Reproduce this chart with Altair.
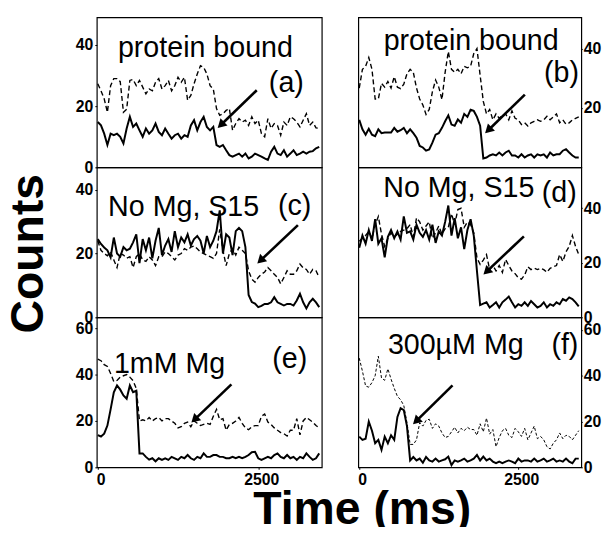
import altair as alt
import pandas as pd

FONT = "Liberation Sans"

TIME_MS = [0, 50, 100, 150, 200, 250, 300, 350, 400, 450,
           500, 550, 600, 650, 700, 750, 800, 850, 900, 950,
           1000, 1050, 1100, 1150, 1200, 1250, 1300, 1350, 1400, 1450,
           1500, 1550, 1600, 1650, 1700, 1750, 1800, 1850, 1900, 1950,
           2000, 2050, 2100, 2150, 2200, 2250, 2300, 2350, 2400, 2450,
           2500, 2550, 2600, 2650, 2700, 2750, 2800, 2850, 2900, 2950,
           3000, 3050, 3100, 3150, 3200, 3250, 3300, 3350, 3400, 3450]

A_SOLID = [14.8, 13.7, 11, 7.3, 11, 10.5, 11, 10, 7.8, 12.7,
           16.5, 13.2, 14.3, 12.1, 10, 12.7, 11, 12.1, 14.3, 11.6,
           10.5, 12.7, 11, 9.4, 10.5, 11, 9.4, 10.5, 10, 13.7,
           15.4, 12.1, 14.8, 16.5, 13.2, 12.1, 13.2, 7.3, 6.7, 7.3,
           5.6, 4, 3.5, 4, 4.5, 3.5, 4.5, 2.9, 3.5, 4.5,
           4, 3.5, 2.9, 2.4, 5.1, 6.7, 4.5, 4, 5.6, 3.5,
           4.5, 5.6, 4, 4.5, 5.1, 4.5, 5.1, 5.3, 6.2, 6.7]
A_DASH = [27.3, 25, 22.4, 18, 26.7, 29, 29, 28, 18, 19,
          28.4, 28.7, 26.7, 28.4, 26.2, 24, 25.6, 25, 27.8, 29,
          25.6, 26.7, 28.4, 25, 26.7, 29.4, 27.8, 29.4, 21.9, 23.5,
          27.3, 30.5, 33.2, 32.7, 30.5, 26.7, 25.6, 19.2, 17, 17.5,
          18.6, 19.2, 12.1, 14.3, 15.9, 14.8, 15.4, 13.7, 16.5, 14.3,
          15.4, 11, 10, 15.9, 12.7, 14.3, 13.7, 10.5, 14.8, 13.7,
          16.5, 15.9, 14.8, 13.2, 15.4, 17.5, 13.7, 14.8, 12.9, 12.7]

B_SOLID = [16, 12.8, 11, 13, 11, 10.5, 12.8, 11.5, 11.7, 11.7,
           11.7, 13.3, 12, 12.5, 13.3, 11.5, 12.8, 11.5, 10, 7.2,
           6.7, 5.6, 6, 8.3, 11, 11.5, 13.3, 15.5, 17.5, 14.4,
           14, 16.1, 15, 18, 17, 19.4, 19, 17, 14, 3,
           3.3, 4, 4.4, 4, 5, 4, 5, 5.6, 4, 4,
           3.3, 4.4, 3.3, 4, 4.4, 3.3, 4.4, 4, 4.4, 3.3,
           5, 4, 4.4, 4.4, 5.6, 6.1, 5, 4, 3.3, 3.3]
B_DASH = [26.7, 33, 34, 37, 33, 23, 23, 28.3, 27, 28.9,
          26.7, 30.5, 27, 26.5, 28, 31.5, 33, 32, 26.7, 23,
          21, 17.8, 19.5, 25.5, 29.4, 27, 22.8, 32, 39, 33,
          32, 33, 31.5, 34, 33.5, 34, 38.3, 40, 31, 22.2,
          18, 19.5, 16, 18, 16.5, 17.5, 18, 16, 19, 16.5,
          16, 14.4, 15, 13.9, 15, 15.5, 16, 15.5, 16, 17.2,
          16, 17, 18, 15, 16, 14.5, 15, 16, 16.5, 17]

C_SOLID = [24.5, 23, 21.9, 21, 18.8, 25, 20, 19, 22, 21,
           21.5, 23.5, 26, 17, 24.5, 21, 25, 18.5, 24, 28,
           19.5, 22.5, 24.5, 20.5, 27, 22, 25, 23.5, 26, 22.5,
           24.5, 25.5, 24, 20, 25.5, 22, 24, 27, 33.5, 20,
           26, 25, 19.5, 27, 28, 27, 22, 7, 4.8, 4.3,
           3.2, 3.6, 4.2, 4.2, 4.7, 6.3, 4.7, 4.2, 3.7, 4.2,
           4.2, 3.7, 5.3, 7.4, 4.7, 2.8, 4.7, 5.8, 4.7, 3.2]
C_DASH = [24, 21, 20, 19.3, 20.5, 18, 15.6, 20, 19.5, 18.5,
          19, 15.6, 19, 20, 18, 17.5, 19, 18, 16.2, 19,
          19, 20.5, 20, 19, 18, 19.5, 20, 21.5, 21, 22,
          22.4, 21.5, 20.5, 20, 19.5, 19, 18.5, 20, 27.6, 21,
          16.2, 20, 21.5, 19.5, 22, 21, 20, 14.6, 12, 11,
          12.5, 13.5, 14.2, 15.6, 14.6, 13.5, 12.5, 10.5, 12.5, 14.6,
          13.5, 13.5, 14.6, 16.7, 15.5, 15, 13.5, 15, 14.6, 12.5]

D_SOLID = [25.5, 30, 27, 32, 28, 36, 27, 29, 22, 29.5,
           32, 29, 31.5, 28.5, 37, 31, 31.5, 28.5, 34, 31,
           29.5, 32, 28.5, 34, 27.3, 31.5, 30, 35, 41, 30,
           36.4, 29, 33, 25, 32, 36, 30, 17, 4.5, 5,
           5.5, 3.6, 4.5, 5.5, 3.6, 5.5, 6.5, 7.6, 5.5, 3.6,
           4.8, 4.2, 5.5, 4.2, 6, 4.8, 3.6, 4.2, 5.5, 3.6,
           4.8, 4.2, 5.5, 4.8, 6.7, 6.1, 7.3, 6.7, 5.5, 4]
D_DASH = [27.9, 29, 30, 31.5, 29, 34, 37, 30.5, 26, 29,
          31, 29.5, 30.5, 31.5, 32, 32.5, 34, 29.5, 36.5, 35,
          32, 33.5, 35, 29, 31, 33.5, 30.5, 32.5, 33, 38,
          34, 39.5, 40, 33, 35, 34, 31, 21.8, 19.4, 21,
          23, 17.5, 19, 17, 19, 16.5, 21.2, 19, 17, 16,
          14.5, 14, 15.5, 18.5, 17.5, 18, 17.5, 18, 17.5, 16.5,
          18, 18.5, 19, 23, 20.5, 24, 26, 30, 26, 23]

E_SOLID = [13.9, 13.3, 14.5, 18, 25, 32.4, 35.3, 33.5, 31, 29.6,
           35.3, 32.4, 33, 6, 6, 4.5, 3.3, 3.9, 2.6, 3.9,
           3.2, 3.9, 3.2, 4.5, 3.9, 3.2, 4.5, 3.9, 5.3, 3.9,
           3.2, 4.5, 3.9, 6, 4.5, 4.5, 5.3, 5.3, 4.5, 4.5,
           3.9, 3.9, 4.5, 3.9, 4.5, 3.9, 4.5, 5.3, 6.5, 6.7,
           3.9, 3.2, 3.9, 4.5, 3.9, 5.3, 6, 4.5, 3.9, 5.3,
           3.9, 4.5, 3.2, 4.5, 3.9, 6, 4.5, 3.2, 3.9, 6]
E_DASH = [46.7, 46, 44.3, 43.5, 40.5, 37, 37.5, 38.9, 39.5, 40,
          38.9, 37.4, 34, 20, 20.5, 20, 21.5, 20, 21, 21.5,
          20, 21, 21, 20, 19, 17, 17.5, 19, 19.5, 17.5,
          20, 19, 18, 18.5, 19, 18.5, 22, 25, 20.5, 21,
          16, 18.5, 19, 20, 21.5, 19, 17, 16.2, 17.5, 18,
          18, 22, 23, 19.5, 18.5, 17, 16, 15, 14.5, 13.5,
          16, 16, 21, 14, 20, 21.5, 20.5, 19.5, 18, 17]

F_SOLID = [13.4, 12, 12.5, 20, 16, 10.5, 12, 7.6, 13.4, 10.5,
           14, 12, 22, 25.8, 25, 18, 3, 4.5, 3, 3.8,
           2, 4.5, 3, 2.5, 3.8, 2.5, 3, 3.5, 4.7, 1,
           3, 2.5, 3, 3.8, 2.5, 3, 3.8, 5.4, 3, 4.7,
           3, 3.8, 2.5, 1.8, 2.5, 1.8, 2.5, 3, 2.5, 1.8,
           3.8, 2.5, 3, 3, 2.5, 3.8, 2.5, 3, 3.8, 2.5,
           3, 3.8, 2.5, 3, 2.5, 3.8, 2.5, 1.8, 3.8, 3.8]
F_DASH = [47.7, 42, 35.5, 35, 37, 40, 48.5, 39, 38, 43,
          38.5, 34.5, 31, 29.5, 27, 19.5, 10, 10, 12, 19.5,
          18, 20.5, 21, 17, 19, 18, 15, 13, 13.5, 15.5,
          17.5, 15, 17, 16, 17.5, 16.5, 16.5, 14, 19, 15.5,
          21.5, 14.5, 16.5, 9, 13, 16, 17, 14, 13, 17,
          15.5, 13.5, 17, 12, 15, 18, 12.5, 13.5, 12, 9,
          8, 10.5, 12, 15, 12.5, 14, 13.5, 12, 14, 16]

SOLIDS = [A_SOLID, B_SOLID, C_SOLID, D_SOLID, E_SOLID, F_SOLID]
DASHES = [A_DASH, B_DASH, C_DASH, D_DASH, E_DASH, F_DASH]
Y_MAX = [49, 50.5, 47, 55, 64.7, 65.5]
Y_TICKS = [[0, 20, 40], [20, 40], [0, 20, 40], [0, 20, 40], [0, 20, 40, 60], [0, 20, 40, 60]]
X_TICKS = [0, 2500]
X_DOMAIN = [-15, 3490]

CAPTIONS = ["protein bound", "protein bound", "No Mg, S15", "No Mg, S15", "1mM Mg", "300\u00b5M Mg"]
CAPTION_T = [1677, 1759, 1338, 1564, 1118, 1517]
CAPTION_Y = [36, 39.5, 31.7, 44.3, 40.5, 49.7]
LETTERS = ["(a)", "(b)", "(c)", "(d)", "(e)", "(f)"]
LETTER_T = [2938, 3179, 3066, 3143, 2990, 3232]
LETTER_Y = [24.6, 28.9, 32.2, 42.4, 42.7, 49.7]

ARROW_TAIL_T = [2477, 2603, 3118, 2588, 2082, 1466]
ARROW_TAIL_Y = [25.2, 24.5, 28.9, 29.7, 35.8, 35.8]
ARROW_HEAD_T = [1862, 1971, 2477, 1944, 1451, 838]
ARROW_HEAD_Y = [12.7, 11.3, 16.7, 15.5, 19.1, 18.6]


def panel(i):
    col = i % 2
    row = i // 2
    df = pd.DataFrame({"t": TIME_MS, "solid": SOLIDS[i], "dashed": DASHES[i]})
    xs = alt.Scale(domain=X_DOMAIN, nice=False, zero=False)
    ys = alt.Scale(domain=[0, Y_MAX[i]], nice=False, zero=False)
    if row == 2:
        xaxis = alt.Axis(values=X_TICKS, title=None, labelFont=FONT, labelFontWeight="bold",
                         labelFontSize=16, labelColor="black", tickColor="black", tickSize=2,
                         labelPadding=2, domain=False, grid=False, labelOffset=3,
                         labelFlush=False, format="d")
    else:
        xaxis = None
    yargs = dict(values=Y_TICKS[i], orient="left" if col == 0 else "right",
                 labelFont=FONT, labelFontWeight="bold", labelFontSize=16,
                 labelColor="black", tickColor="black", tickSize=2 if col == 0 else 1,
                 labelPadding=2 if col == 0 else 1, domain=False, grid=False, format="d")
    if i == 2:
        yargs.update(title="Counts", titleFont=FONT, titleFontSize=47, titleFontWeight="bold",
                     titleColor="black", titlePadding=23, titleY=87)
    else:
        yargs.update(title=None)
    yaxis = alt.Axis(**yargs)

    def X(field):
        return alt.X(field, scale=xs, axis=xaxis)

    def Y(field):
        return alt.Y(field, scale=ys, axis=yaxis)

    base = alt.Chart(df)
    dash_w = 1.0 if i == 5 else 1.4
    dash_p = [3, 2] if i == 5 else [5, 3]
    dashed = base.mark_line(color="black", strokeWidth=dash_w, strokeDash=dash_p).encode(
        x=X("t:Q"), y=Y("dashed:Q"))
    solid = base.mark_line(color="black", strokeWidth=2.0).encode(
        x=X("t:Q"), y=Y("solid:Q"))

    tdf = pd.DataFrame({"t": [CAPTION_T[i], LETTER_T[i]],
                        "y": [CAPTION_Y[i], LETTER_Y[i]],
                        "txt": [CAPTIONS[i], LETTERS[i]]})
    texts = alt.Chart(tdf).mark_text(font=FONT, fontSize=29, align="center",
                                     baseline="alphabetic", color="black").encode(
        x=X("t:Q"), y=Y("y:Q"), text="txt:N")

    adf = pd.DataFrame({"t0": [ARROW_TAIL_T[i]], "y0": [ARROW_TAIL_Y[i]],
                        "t1": [ARROW_HEAD_T[i]], "y1": [ARROW_HEAD_Y[i]]})
    adf["hx"] = adf["t1"] + 0.09 * (adf["t0"] - adf["t1"])
    adf["hy"] = adf["y1"] + 0.09 * (adf["y0"] - adf["y1"])
    shaft = alt.Chart(adf).mark_rule(color="black", strokeWidth=2.6).encode(
        x=X("t0:Q"), y=Y("y0:Q"), x2="hx:Q", y2="hy:Q")
    head = alt.Chart(adf).mark_point(shape="triangle-up", filled=True, size=105, angle=226,
                                     color="black", opacity=1).encode(
        x=X("hx:Q"), y=Y("hy:Q"))
    return alt.layer(dashed, solid, texts, shaft, head).properties(
        width=228 if col == 0 else 226, height=152)


charts = [panel(i) for i in range(6)]

chart = alt.concat(*charts, columns=2, spacing={"row": 0, "column": 37}, bounds="flush").properties(
    title=alt.TitleParams("Time (ms)", orient="bottom", anchor="middle", fontSize=47, font=FONT,
                          fontWeight="bold", color="black", offset=0, dx=60),
    autosize=alt.AutoSizeParams(type="none"),
    padding={"left": 90, "top": 6, "right": 513, "bottom": 513},
    background="white",
).configure_view(stroke="black", strokeWidth=1.2)

chart.save("out.html", embed_options={"renderer": "svg", "actions": False})
